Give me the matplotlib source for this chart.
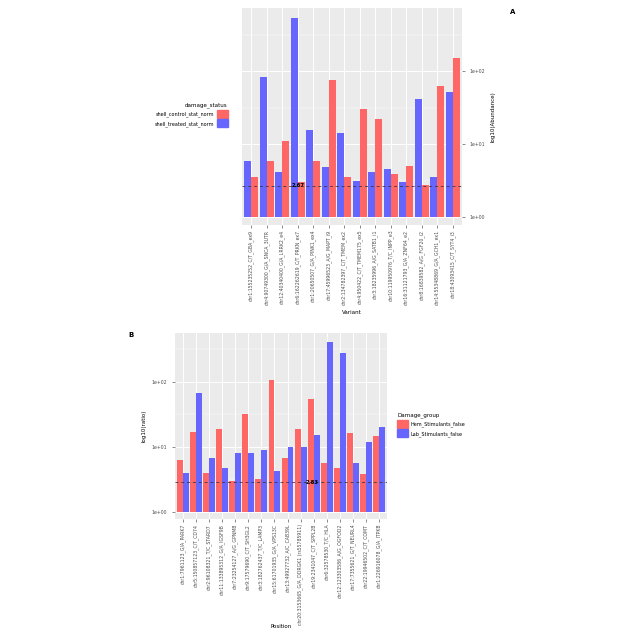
import numpy as np
import matplotlib
matplotlib.use("Agg")
import matplotlib.pyplot as plt
from matplotlib.patches import Patch

# panel A (drawn as in the reference: axis on the right, legend on the left)
variants_a = ["chr1:155235252_C/T_GBA_ex9", "chr4:90749300_G/A_SNCA_3UTR", "chr12:40340400_G/A_LRRK2_e4",
              "chr6:162262619_C/T_PRKN_ex7", "chr1:20650507_G/A_PINK1_ex4", "chr17:45996523_A/G_MAPT_i9",
              "chr2:134782397_C/T_TMEM_ex2", "chr4:950422_C/T_TMEM175_ex5", "chr3:18235996_A/G_SATB1_i1",
              "chr10:119950976_T/C_INPP_e3", "chr16:31121793_G/A_ZNF64_e2", "chr8:16839582_A/G_FGF20_i2",
              "chr14:55348869_G/A_GCH1_ex1", "chr18:43093415_C/T_SYT4_i3"]
a_blue = [5.75, 81.8, 4.10, 540, 15.5, 4.85, 14.2, 3.09, 4.10, 4.47, 2.96, 41.3, 3.51, 51.5]
a_red = [3.47, 5.75, 11.0, 3.03, 5.75, 74.5, 3.54, 30.1, 21.9, 3.81, 4.91, 2.75, 61.5, 152]
a_groups = ["shell_control_stat_norm", "shell_treated_stat_norm"]
a_cut = 2.67

# panel B
positions_b = ["chr1:7961123_G/A_PARK7", "chr5:150857123_C/T_CD74", "chr2:96108321_T/C_STARD7",
               "chr11:133895312_G/A_IGSF9B", "chr7:23254127_A/G_GPNMB", "chr9:17579690_C/T_SH3GL2",
               "chr3:182762437_T/C_LAMP3", "chr15:61701935_G/A_VPS13C", "chr13:49927732_A/C_CAB39L",
               "chr20:3153665_G/A_DDRGK1 (rs55785911)", "chr19:2341047_C/T_SPPL2B", "chr6:32578530_T/C_HLA",
               "chr12:123303586_A/G_OGFOD2", "chr17:7355621_G/T_NEURL4", "chr22:19946502_C/T_COMT",
               "chr1:226916078_G/A_ITPKB"]
b_red = [6.24, 16.6, 3.89, 18.5, 2.93, 31.8, 3.18, 106, 6.78, 18.7, 54.1, 5.55, 4.70, 16.4, 3.85, 14.8]
b_blue = [3.89, 67.8, 6.78, 4.65, 7.89, 7.89, 8.89, 4.23, 9.77, 10.0, 15.1, 412, 273, 5.55, 11.7, 19.8]
b_groups = ["Hem_Stimulants_false", "Lab_Stimulants_false"]
b_cut = 2.83

RED = "#FF6666"
BLUE = "#6666FF"
W, H = 640, 640


def box(l, r, t, b):
    return [l / W, 1 - b / H, (r - l) / W, (b - t) / H]


def panel(ax, cats, left_vals, right_vals, left_col, right_col, ylo, yhi, cut, cut_x):
    n = len(cats)
    x = np.arange(1, n + 1)
    ax.set_facecolor("#EBEBEB")
    ax.set_yscale("log")
    ax.set_xlim(0.4, n + 0.6)
    ax.set_ylim(10 ** ylo, 10 ** yhi)
    for e in [-0.5, 0.5, 1.5, 2.5]:
        ax.axhline(10 ** e, color="white", lw=0.35, zorder=0)
    for e in [0, 1, 2]:
        ax.axhline(10 ** e, color="white", lw=0.7, zorder=0)
    for xi in x:
        ax.axvline(xi, color="white", lw=0.7, zorder=0)
    ax.bar(x - 0.225, np.array(left_vals) - 1, bottom=1, width=0.45, color=left_col, zorder=2)
    ax.bar(x + 0.225, np.array(right_vals) - 1, bottom=1, width=0.45, color=right_col, zorder=2)
    ax.axhline(cut, color="#333333", lw=0.7, ls=(0, (3, 3)), alpha=0.8, zorder=3)
    ax.text(cut_x, cut, f"{cut:.2f}", fontsize=3.8, fontweight="bold", ha="center",
            va="center", color="black", zorder=4)
    ax.set_yticks([1, 10, 100])
    ax.set_yticklabels(["1e+00", "1e+01", "1e+02"])
    ax.minorticks_off()
    ax.set_xticks(x)
    ax.set_xticklabels(cats, rotation=90, fontsize=3.3, color="#4D4D4D")
    ax.tick_params(axis="y", labelsize=3.3, labelcolor="#4D4D4D", length=2, width=0.4, color="#333333")
    ax.tick_params(axis="x", length=2, width=0.4, color="#333333", pad=1.5)
    for s in ax.spines.values():
        s.set_visible(False)


fig = plt.figure(figsize=(6.4, 6.4), dpi=100)

ax_a = fig.add_axes(box(242, 462, 8, 225))
panel(ax_a, variants_a, a_blue, a_red, BLUE, RED, -0.114, 2.867, a_cut, 4.0)
ax_a.yaxis.tick_right()
ax_a.yaxis.set_label_position("right")
ax_a.set_ylabel("log10(Abundance)", fontsize=4, labelpad=4)
fig.text(352 / W, 1 - 312 / H, "Variant", fontsize=4, ha="center", va="center")
leg_a = ax_a.legend(handles=[Patch(color=RED, label=a_groups[0]), Patch(color=BLUE, label=a_groups[1])],
                    title="damage_status", loc="center right", bbox_to_anchor=(232 / W, 1 - 115 / H),
                    bbox_transform=fig.transFigure, fontsize=3.5, title_fontsize=4, frameon=False,
                    markerfirst=False, handlelength=2.2, handleheight=2.2, alignment="right",
                    labelspacing=0.3, handletextpad=0.6)
fig.text(513 / W, 1 - 12 / H, "A", fontsize=5, fontweight="bold", ha="center", va="center")

ax_b = fig.add_axes(box(175, 387, 333, 519))
panel(ax_b, positions_b, b_red, b_blue, RED, BLUE, -0.112, 2.749, b_cut, 10.9)
ax_b.set_ylabel("log10(ratio)", fontsize=4, labelpad=4)
fig.text(281 / W, 1 - 627 / H, "Position", fontsize=4, ha="center", va="center")
leg_b = ax_b.legend(handles=[Patch(color=RED, label=b_groups[0]), Patch(color=BLUE, label=b_groups[1])],
                    title="Damage_group", loc="center left", bbox_to_anchor=(393 / W, 1 - 425 / H),
                    bbox_transform=fig.transFigure, fontsize=3.5, title_fontsize=4, frameon=False,
                    handlelength=2.2, handleheight=2.2, alignment="left",
                    labelspacing=0.3, handletextpad=0.6)
fig.text(131 / W, 1 - 335 / H, "B", fontsize=5, fontweight="bold", ha="center", va="center")

fig.savefig("out.png", dpi=100, facecolor="white")
